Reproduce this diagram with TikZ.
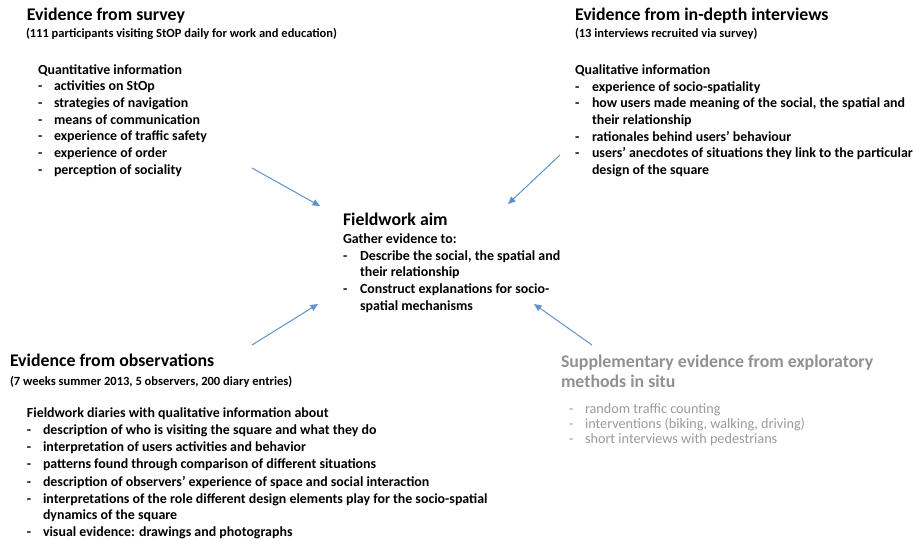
\documentclass[tikz,border=0pt]{standalone}
\usepackage{fontspec}
\setmainfont{Carlito}
\usetikzlibrary{arrows.meta}
\definecolor{arrowblue}{RGB}{96,146,206}
\definecolor{suphead}{RGB}{145,145,145}
\definecolor{supbody}{RGB}{155,155,155}
\tikzset{
  txt/.style={anchor=base west, inner sep=0pt, outer sep=0pt},
  head/.style={txt, font=\fontsize{17.8}{21}\selectfont\bfseries},
  sub/.style={txt, font=\fontsize{12.5}{15}\selectfont\bfseries},
  body/.style={txt, font=\fontsize{13.9}{16.7}\selectfont\bfseries},
  dsh/.style={body},
  shead/.style={head, text=suphead},
  sbody/.style={txt, font=\fontsize{14.2}{17}\selectfont, text=supbody},
  flow/.style={draw=arrowblue, line width=1pt, -{Triangle[length=7.5pt,width=6.5pt]}},
}
\begin{document}
\begin{tikzpicture}[x=1pt,y=-1pt]
\useasboundingbox (0,0) rectangle (917,538);
\fill[white] (0,0) rectangle (917,538);

% --- survey block
\node[head] (svh) at (27,20) {Evidence from survey};
\node[sub]  (svs) at (26,37) {(111 participants visiting StOP daily for work and education)};
\node[body] (sv0) at (38,74) {Quantitative information};
\foreach \t [count=\i] in {activities on StOp, strategies of navigation, means of communication,
    experience of traffic safety, experience of order, perception of sociality}{
  \node[dsh] (svd\i) at (38,74+16.67*\i) {-};
  \node[body] (sv\i) at (54,74+16.67*\i) {\t};
}

% --- interview block
\node[head] (ivh) at (575,20) {Evidence from in-depth interviews};
\node[sub]  (ivs) at (575,37) {(13 interviews recruited via survey)};
\node[body] (iv0) at (575,74) {Qualitative information};
\node[dsh]  (ivd1) at (575,91) {-};
\node[body] (iv1) at (592,91) {experience of socio-spatiality};
\node[dsh]  (ivd2) at (575,107.7) {-};
\node[body] (iv2) at (592,107.7) {how users made meaning of the social, the spatial and};
\node[body] (iv2b) at (592,124.3) {their relationship};
\node[dsh]  (ivd3) at (575,141) {-};
\node[body] (iv3) at (592,141) {rationales behind users’ behaviour};
\node[dsh]  (ivd4) at (575,157.7) {-};
\node[body] (iv4) at (592,157.7) {users’ anecdotes of situations they link to the particular};
\node[body] (iv4b) at (592,174.3) {design of the square};

% --- fieldwork aim
\node[head] (fah) at (343,225) {Fieldwork aim};
\node[body] (fa0) at (343,243) {Gather evidence to:};
\node[dsh]  (fad1) at (343,260) {-};
\node[body] (fa1) at (360,260) {Describe the social, the spatial and};
\node[body] (fa1b) at (360,276.7) {their relationship};
\node[dsh]  (fad2) at (343,293.3) {-};
\node[body] (fa2) at (360,293.3) {Construct explanations for socio-};
\node[body] (fa2b) at (360,310) {spatial mechanisms};

% --- observation block
\node[head] (obh) at (10,366) {Evidence from observations};
\node[sub]  (obs) at (10,385) {(7 weeks summer 2013, 5 observers, 200 diary entries)};
\node[body] (ob0) at (27,417) {Fieldwork diaries with qualitative information about};
\node[dsh]  (obd1) at (27,434.3) {-};
\node[body] (ob1) at (43,434.3) {description of who is visiting the square and what they do};
\node[dsh]  (obd2) at (27,451.6) {-};
\node[body] (ob2) at (43,451.6) {interpretation of users activities and behavior};
\node[dsh]  (obd3) at (27,468.9) {-};
\node[body] (ob3) at (43,468.9) {patterns found through comparison of different situations};
\node[dsh]  (obd4) at (27,486.2) {-};
\node[body] (ob4) at (43,486.2) {description of observers’ experience of space and social interaction};
\node[dsh]  (obd5) at (27,503.2) {-};
\node[body] (ob5) at (43,503.2) {interpretations of the role different design elements play for the socio-spatial};
\node[body] (ob5b) at (43,519.6) {dynamics of the square};
\node[dsh]  (obd6) at (27,536) {-};
\node[body] (ob6) at (43,536) {visual evidence: drawings and photographs};

% --- supplementary block
\node[shead] (sph) at (561,367) {Supplementary evidence from exploratory};
\node[shead] (sphb) at (561,387) {methods in situ};
\node[sbody] (spd1) at (569,413) {-};
\node[sbody] (sp1) at (585,413) {random traffic counting};
\node[sbody] (spd2) at (569,428) {-};
\node[sbody] (sp2) at (585,428) {interventions (biking, walking, driving)};
\node[sbody] (spd3) at (569,443) {-};
\node[sbody] (sp3) at (585,443) {short interviews with pedestrians};

% --- arrows towards the aim
\coordinate (a1s) at (252,168); \coordinate (a1e) at (320,206);
\coordinate (a2s) at (560,155); \coordinate (a2e) at (508,204);
\coordinate (a3s) at (252,345); \coordinate (a3e) at (318,304);
\coordinate (a4s) at (592,345); \coordinate (a4e) at (534,304);
\draw[flow] (a1s) -- (a1e);
\draw[flow] (a2s) -- (a2e);
\draw[flow] (a3s) -- (a3e);
\draw[flow] (a4s) -- (a4e);
\end{tikzpicture}
\end{document}
